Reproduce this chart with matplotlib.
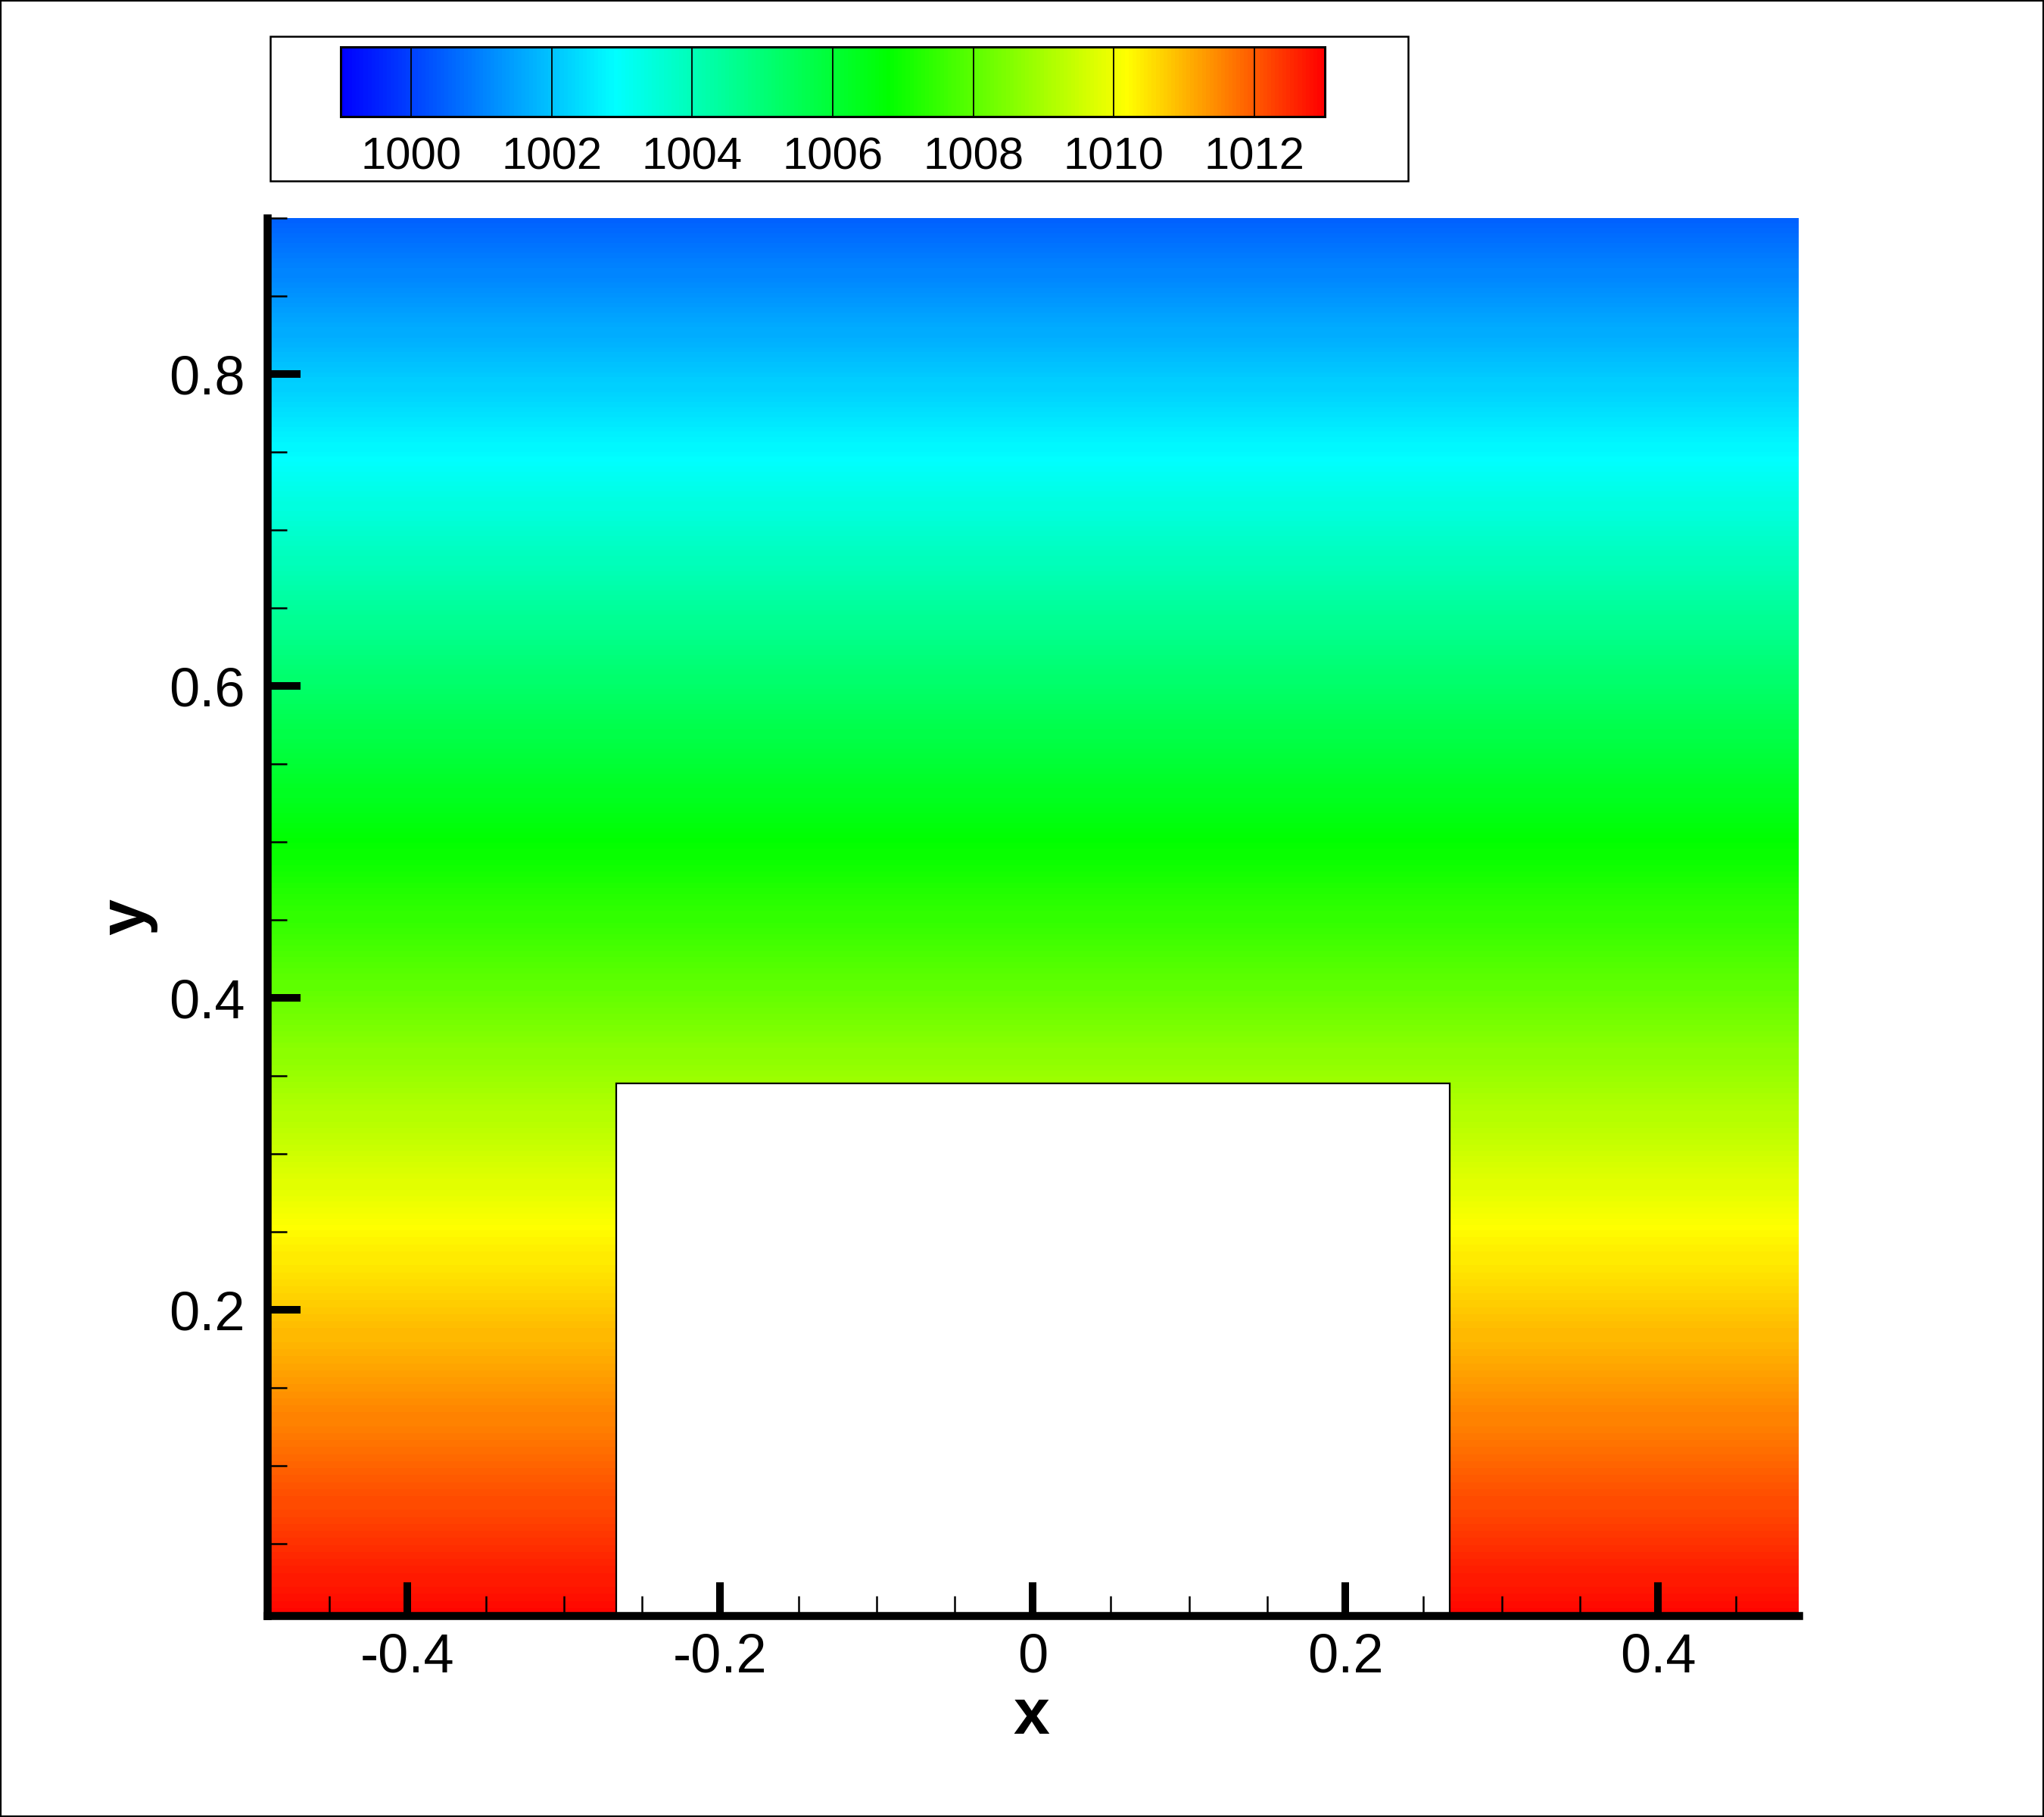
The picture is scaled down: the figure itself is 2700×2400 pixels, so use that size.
import matplotlib
matplotlib.use("Agg")
import matplotlib.pyplot as plt
import numpy as np
from matplotlib.colors import LinearSegmentedColormap, Normalize
from matplotlib.patches import Rectangle
from matplotlib.ticker import MultipleLocator, FixedLocator, FixedFormatter
import matplotlib.cm as cm

plt.rcParams['font.family'] = ['Liberation Sans', 'DejaVu Sans']
plt.rcParams['axes.unicode_minus'] = False

# pressure, field only varies with height
y_samples = [0.0, 0.251, 0.4995, 0.747, 0.9]
p_samples = [1013.0, 1010.2, 1006.8, 1002.9, 1000.5]
x_domain = [-0.49, 0.49]

# block sitting on the floor
block_x = [-0.2667, 0.2667]
block_top = 0.345

# colour legend
cmap_values = [999.0, 1002.9, 1006.8, 1010.2, 1013.0]
cmap_colors = ['#0000ff', '#00ffff', '#00ff00', '#ffff00', '#ff0000']
p_min, p_max = 999.0, 1013.0
legend_ticks = [1000, 1002, 1004, 1006, 1008, 1010, 1012]

x_ticks = [-0.4, -0.2, 0.0, 0.2, 0.4]
x_tick_labels = ['-0.4', '-0.2', '0', '0.2', '0.4']
y_ticks = [0.2, 0.4, 0.6, 0.8]
y_tick_labels = ['0.2', '0.4', '0.6', '0.8']

W, H = 2700, 2400
fig = plt.figure(figsize=(27, 24), dpi=100)

nodes = [(v - p_min) / (p_max - p_min) for v in cmap_values]
cmap = LinearSegmentedColormap.from_list('small_rainbow', list(zip(nodes, cmap_colors)))

# main axes: left spine at x=352, right 2376, top 288, bottom 2134 (pixels)
ax = fig.add_axes([352.5 / W, 1 - 2134 / H, (2376 - 352.5) / W, (2134 - 288) / H])

X, Y = np.meshgrid(x_domain, y_samples)
Z = np.repeat(np.array(p_samples)[:, None], len(x_domain), axis=1)
levels = np.linspace(p_min, p_max, 281)
cf = ax.contourf(X, Y, Z, levels=levels, cmap=cmap, antialiased=False)

ax.add_patch(Rectangle((block_x[0], y_samples[0]), block_x[1] - block_x[0], block_top - y_samples[0],
                       facecolor='white', edgecolor='black', lw=1.6, zorder=1.5))

ax.set_xlim(x_domain[0], x_domain[1])
ax.set_ylim(0.004, 0.9)

for s in ['top', 'right']:
    ax.spines[s].set_visible(False)
for s in ['left', 'bottom']:
    ax.spines[s].set_linewidth(7.6)
    ax.spines[s].set_zorder(3)

ax.xaxis.set_major_locator(FixedLocator(x_ticks))
ax.xaxis.set_major_formatter(FixedFormatter(x_tick_labels))
ax.yaxis.set_major_locator(FixedLocator(y_ticks))
ax.yaxis.set_major_formatter(FixedFormatter(y_tick_labels))
ax.xaxis.set_minor_locator(MultipleLocator(0.05))
ax.yaxis.set_minor_locator(MultipleLocator(0.05))

ax.tick_params(which='major', direction='in', length=32, width=7.2, labelsize=52)
ax.tick_params(which='minor', direction='in', length=19, width=1.8)
ax.tick_params(axis='x', which='major', pad=16)
ax.tick_params(axis='y', which='major', pad=21)
ax.tick_params(top=False, right=False, which='both')

ax.set_xlabel('x', fontsize=62, fontweight='bold', va='baseline')
ax.xaxis.set_label_coords(0.4992, -(2290 - 2134) / (2134 - 288))
ax.set_ylabel('y', fontsize=62, fontweight='bold', va='baseline')
ax.yaxis.set_label_coords(-(352.5 - 190) / (2376 - 352.5), 0.5)

# legend frame and horizontal colour bar
fig.add_artist(Rectangle((357 / W, 1 - 239 / H), (1860 - 357) / W, (239 - 48) / H,
                         transform=fig.transFigure, fill=False, lw=1.8, edgecolor='black'))
cax = fig.add_axes([450 / W, 1 - 154 / H, (1750 - 450) / W, (154 - 62) / H])
sm = cm.ScalarMappable(norm=Normalize(p_min, p_max), cmap=cmap)
cb = fig.colorbar(sm, cax=cax, orientation='horizontal')
cb.outline.set_linewidth(2.2)
cb.set_ticks(legend_ticks)
cb.set_ticklabels([str(t) for t in legend_ticks])
cax.tick_params(length=0, labelsize=43, pad=19)
for t in legend_ticks:
    cax.axvline(t, color='black', lw=1.3)

# outer frame of the page
fig.add_artist(Rectangle((0, 0), 1, 1, transform=fig.transFigure, fill=False, lw=3, edgecolor='black'))

fig.savefig('out.png', dpi=100)
